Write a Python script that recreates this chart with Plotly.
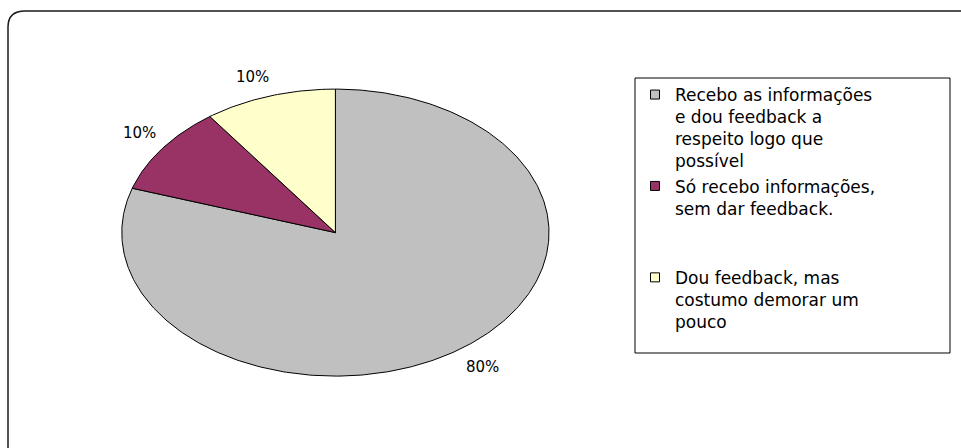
import numpy as np
import plotly.graph_objects as go

# ---------------- data ----------------
categories = [
    "Recebo as informações e dou feedback a respeito logo que possível",
    "Só recebo informações, sem dar feedback.",
    "Dou feedback, mas costumo demorar um pouco",
]
legend_labels = [
    "Recebo as informações<br>e dou feedback a<br>respeito logo que<br>possível",
    "Só recebo informações,<br>sem dar feedback.<br>\u00a0<br>\u00a0",
    "Dou feedback, mas<br>costumo demorar um<br>pouco",
]
values = [80, 10, 10]
pct_labels = ["80%", "10%", "10%"]

# ---------------- styles ----------------
colors = ["#C0C0C0", "#993366", "#FFFFCC"]
label_shift = [(3, -1), (3, 3), (-7, -1)]   # px tweaks for data labels
W, H = 961, 448

# pie geometry (pixels): centre and radii of the ellipse
CX, CY, RX, RY = 335.4, 232.6, 213.6, 143.5
SPAN = 1.3   # axis half-range in data units

fig = go.Figure()

total = float(sum(values))
start = 0.0
mids = []
for i, v in enumerate(values):
    a0 = start / total * 2 * np.pi
    a1 = (start + v) / total * 2 * np.pi
    th = np.linspace(a0, a1, max(int(v * 4), 20))
    xs = np.concatenate([[0], np.sin(th), [0]])
    ys = np.concatenate([[0], np.cos(th), [0]])
    fig.add_trace(go.Scatter(
        x=xs, y=ys, mode="lines", fill="toself", fillcolor=colors[i],
        line=dict(color="black", width=1), showlegend=False,
        name=categories[i], hoverinfo="name",
    ))
    mids.append((a0 + a1) / 2)
    start += v

for i in range(len(values)):
    fig.add_trace(go.Scatter(
        x=[None], y=[None], mode="markers", name=legend_labels[i],
        marker=dict(symbol="square", size=9, color=colors[i],
                    line=dict(color="black", width=1)),
        showlegend=True,
    ))

R = 1.15
annotations = []
for i, m in enumerate(mids):
    annotations.append(dict(
        x=float(R * np.sin(m)), y=float(R * np.cos(m)), xref="x", yref="y",
        text=pct_labels[i], showarrow=False,
        xshift=label_shift[i][0], yshift=label_shift[i][1],
        font=dict(family="DejaVu Sans", size=15, color="black"),
    ))


def px(x):
    return x / W


def py(y):
    return 1 - y / H


border_path = (
    f"M {px(8)},{py(460)} L {px(8)},{py(27)} "
    f"Q {px(8)},{py(11)} {px(25)},{py(11)} L {px(990)},{py(11)}"
)

shapes = [
    dict(type="path", xref="paper", yref="paper", path=border_path,
         line=dict(color="#1a1a1a", width=1.5)),
    dict(type="rect", xref="paper", yref="paper",
         x0=px(635), x1=px(950), y0=py(353), y1=py(78),
         line=dict(color="black", width=1), fillcolor="rgba(0,0,0,0)"),
]

fig.update_layout(
    width=W, height=H,
    margin=dict(l=0, r=0, t=0, b=0),
    paper_bgcolor="white", plot_bgcolor="rgba(0,0,0,0)",
    xaxis=dict(visible=False, range=[-SPAN, SPAN],
               domain=[px(CX - RX * SPAN), px(CX + RX * SPAN)],
               fixedrange=True),
    yaxis=dict(visible=False, range=[-SPAN, SPAN],
               domain=[py(CY + RY * SPAN), py(CY - RY * SPAN)],
               fixedrange=True),
    showlegend=True,
    legend=dict(
        x=px(635), y=py(77), xanchor="left", yanchor="top",
        font=dict(family="DejaVu Sans", size=17, color="black"),
        valign="top", bgcolor="rgba(0,0,0,0)", borderwidth=0,
        tracegroupgap=0, itemclick=False, itemdoubleclick=False,
    ),
    shapes=shapes,
    annotations=annotations,
)

fig.write_html("out.html", config={"displayModeBar": False},
               post_script="document.body.style.margin='0';")
